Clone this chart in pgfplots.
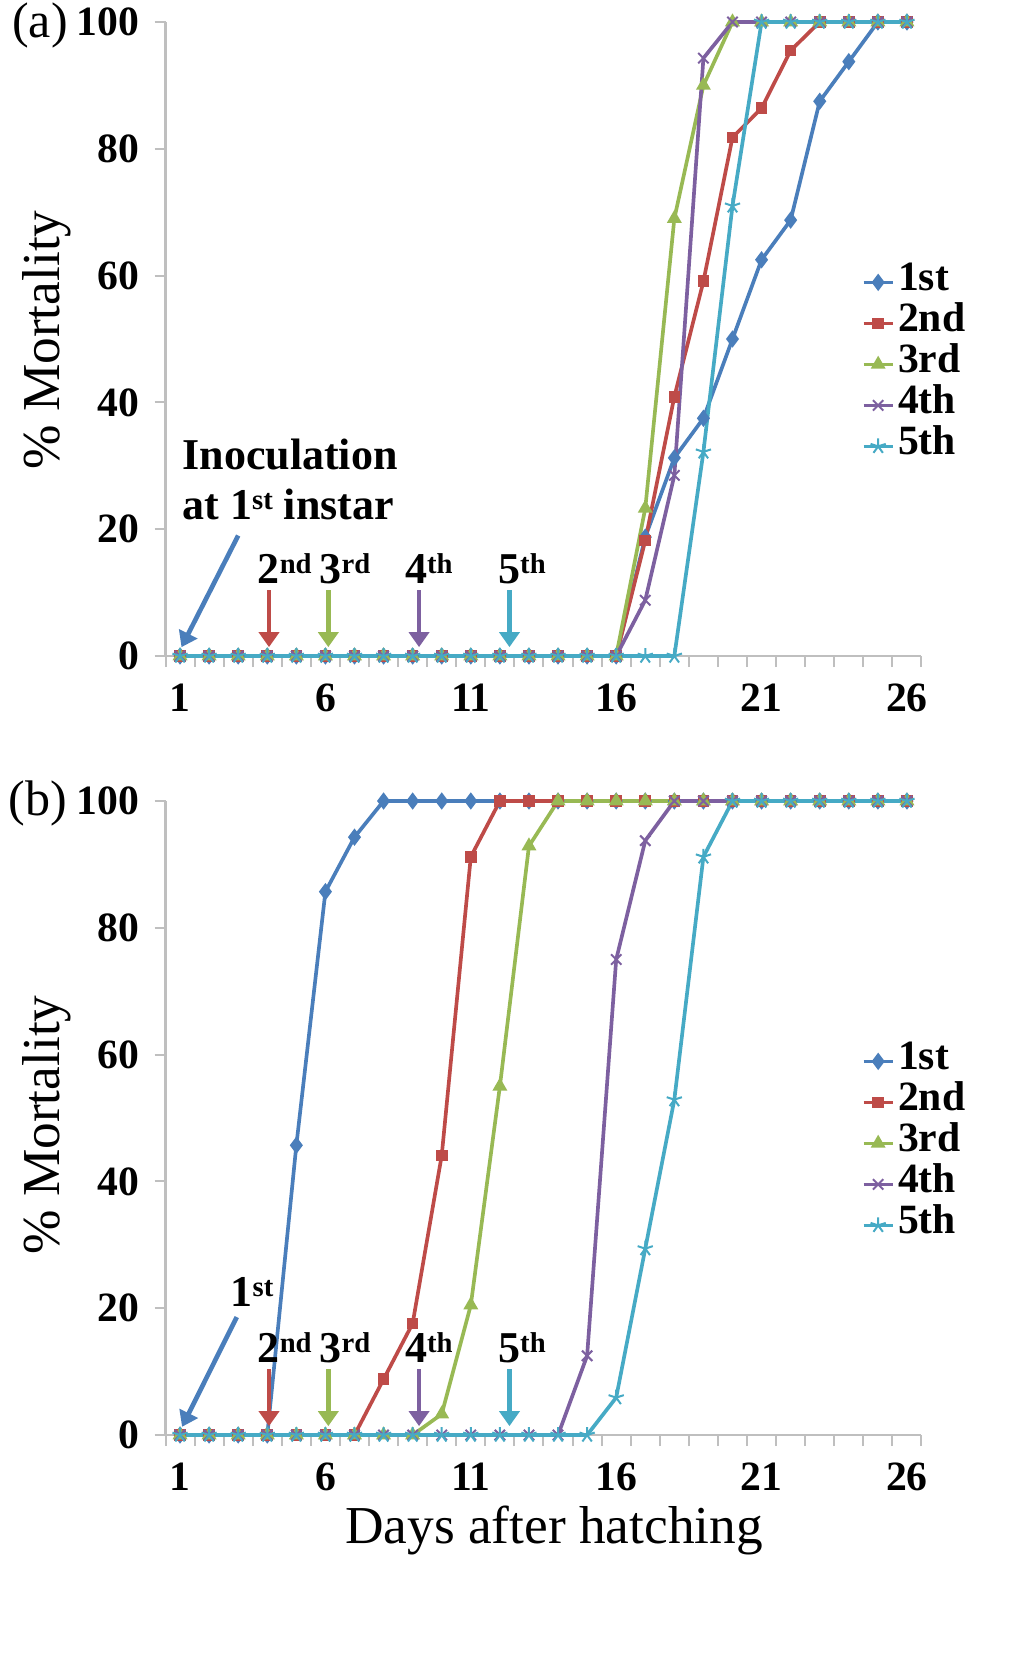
\documentclass[border=0pt]{standalone}
\usepackage{fontspec}
\setmainfont{Liberation Serif}
\usepackage{pgfplots}
\usepackage{pgfplotstable}
\pgfplotsset{compat=1.18}
\usetikzlibrary{arrows.meta}

\definecolor{c1}{HTML}{4A7EBB}
\definecolor{c2}{HTML}{BE4B48}
\definecolor{c3}{HTML}{98B954}
\definecolor{c4}{HTML}{7D60A0}
\definecolor{c5}{HTML}{46AAC5}
\definecolor{axgray}{HTML}{BFBFBF}

\newcommand\sups[1]{\raisebox{3.1pt}{\fontsize{8.6}{8.6}\selectfont #1}}

\pgfplotstableread{
day s1 s2 s3 s4 s5
1 0 0 0 0 0
2 0 0 0 0 0
3 0 0 0 0 0
4 0 0 0 0 0
5 0 0 0 0 0
6 0 0 0 0 0
7 0 0 0 0 0
8 0 0 0 0 0
9 0 0 0 0 0
10 0 0 0 0 0
11 0 0 0 0 0
12 0 0 0 0 0
13 0 0 0 0 0
14 0 0 0 0 0
15 0 0 0 0 0
16 0 0 0 0 0
17 18.75 18.2 23.3 8.8 0
18 31.25 40.9 69 28.5 0
19 37.5 59.1 90 94.3 32.2
20 50 81.8 100 100 71
21 62.5 86.4 100 100 100
22 68.75 95.5 100 100 100
23 87.5 100 100 100 100
24 93.75 100 100 100 100
25 100 100 100 100 100
26 100 100 100 100 100
}\dataA

\pgfplotstableread{
day s1 s2 s3 s4 s5
1 0 0 0 0 0
2 0 0 0 0 0
3 0 0 0 0 0
4 0 0 0 0 0
5 45.7 0 0 0 0
6 85.7 0 0 0 0
7 94.3 0 0 0 0
8 100 8.8 0 0 0
9 100 17.6 0 0 0
10 100 44.1 3.3 0 0
11 100 91.2 20.5 0 0
12 100 100 55 0 0
13 100 100 92.9 0 0
14 100 100 100 0 0
15 100 100 100 12.5 0
16 100 100 100 75 5.9
17 100 100 100 93.75 29.4
18 100 100 100 100 52.9
19 100 100 100 100 91.2
20 100 100 100 100 100
21 100 100 100 100 100
22 100 100 100 100 100
23 100 100 100 100 100
24 100 100 100 100 100
25 100 100 100 100 100
26 100 100 100 100 100
}\dataB

\pgfplotsset{
  mystyle/.style={
    scale only axis, width=226.8pt, height=190.2pt,
    xmin=0.5, xmax=26.5, ymin=0, ymax=100,
    axis x line*=bottom, axis y line*=left,
    axis line style={-, axgray, line width=0.8pt},
    xtick={0.5,1.5,...,26.5}, xticklabels={},
    extra x ticks={1,6,11,16,21,26},
    extra x tick labels={1,6,11,16,21,26},
    extra x tick style={major tick length=0pt},
    ytick={0,20,...,100},
    tick align=outside, major tick length=3.3pt,
    tick style={axgray, line width=0.6pt},
    ticklabel style={font=\fontsize{12.5}{12.5}\selectfont\bfseries},
    xticklabel style={inner sep=0pt, yshift=-8.2pt},
    yticklabel style={xshift=-1pt},
    /pgf/number format/assume math mode=true,
    clip=false,
    legend style={at={(0.920,0.460)}, anchor=west, draw=none, fill=none,
      inner sep=0pt, font=\fontsize{12.5}{12.5}\selectfont\bfseries,
      nodes={inner sep=0pt, text height=8.7pt, text depth=3.6pt},
      column sep=1pt},
    legend cell align=left,
    legend image code/.code={\draw[mark repeat=2,mark phase=2] plot coordinates {(0pt,0pt) (4.4pt,0pt) (8.8pt,0pt)};},
  },
  l1/.style={c1, line width=1.1pt, mark=diamond*, mark size=2.2pt, mark options={solid, line width=0.5pt}},
  l2/.style={c2, line width=1.1pt, mark=square*, mark size=1.5pt, mark options={solid, line width=0.5pt}},
  l3/.style={c3, line width=1.1pt, mark=triangle*, mark size=2.1pt, mark options={solid, line width=0.5pt}},
  l4/.style={c4, line width=1.1pt, mark=x, mark size=2.2pt, mark options={solid, line width=0.6pt}},
  l5/.style={c5, line width=1.1pt, mark=star, mark size=2.4pt, mark options={solid, line width=0.6pt}},
}

\tikzset{varr/.style={line width=1.4pt, -{Triangle[width=6pt,length=4.5pt]}},
  ann/.style={anchor=base west, inner sep=0pt, font=\fontsize{13.2}{13.2}\selectfont\bfseries}}

\begin{document}
\begin{tikzpicture}
% ---------- panel (a)
\begin{axis}[mystyle, at={(49.65pt,-196.8pt)}, anchor=south west]
\addplot[l1] table[x=day,y=s1]{\dataA}; \addlegendentry{1st}
\addplot[l2] table[x=day,y=s2]{\dataA}; \addlegendentry{2nd}
\addplot[l3] table[x=day,y=s3]{\dataA}; \addlegendentry{3rd}
\addplot[l4] table[x=day,y=s4]{\dataA}; \addlegendentry{4th}
\addplot[l5] table[x=day,y=s5]{\dataA}; \addlegendentry{5th}

\draw[c1, varr] (axis cs:3.0,19.0) -- (axis cs:1.05,1.4);
\node[ann] at (axis cs:1.06,29.4) {Inoculation};
\node[ann] at (axis cs:1.06,21.5) {at 1\sups{st} instar};

\draw[c2, varr] (axis cs:4.06,10.4) -- (axis cs:4.06,1.4);
\draw[c3, varr] (axis cs:6.10,10.4) -- (axis cs:6.10,1.4);
\draw[c4, varr] (axis cs:9.22,10.4) -- (axis cs:9.22,1.4);
\draw[c5, varr] (axis cs:12.33,10.4) -- (axis cs:12.33,1.4);
\node[ann] at (axis cs:3.65,11.4) {2\sups{nd}};
\node[ann] at (axis cs:5.78,11.4) {3\sups{rd}};
\node[ann] at (axis cs:8.72,11.4) {4\sups{th}};
\node[ann] at (axis cs:11.92,11.4) {5\sups{th}};
\end{axis}

% ---------- panel (b)
\begin{axis}[mystyle, at={(49.65pt,-430.5pt)}, anchor=south west]
\addplot[l1] table[x=day,y=s1]{\dataB}; \addlegendentry{1st}
\addplot[l2] table[x=day,y=s2]{\dataB}; \addlegendentry{2nd}
\addplot[l3] table[x=day,y=s3]{\dataB}; \addlegendentry{3rd}
\addplot[l4] table[x=day,y=s4]{\dataB}; \addlegendentry{4th}
\addplot[l5] table[x=day,y=s5]{\dataB}; \addlegendentry{5th}

\draw[c1, varr] (axis cs:2.95,18.6) -- (axis cs:1.07,1.3);
\node[ann] at (axis cs:2.72,20.2) {1\sups{st}};

\draw[c2, varr] (axis cs:4.06,10.4) -- (axis cs:4.06,1.4);
\draw[c3, varr] (axis cs:6.10,10.4) -- (axis cs:6.10,1.4);
\draw[c4, varr] (axis cs:9.22,10.4) -- (axis cs:9.22,1.4);
\draw[c5, varr] (axis cs:12.33,10.4) -- (axis cs:12.33,1.4);
\node[ann] at (axis cs:3.65,11.4) {2\sups{nd}};
\node[ann] at (axis cs:5.78,11.4) {3\sups{rd}};
\node[ann] at (axis cs:8.72,11.4) {4\sups{th}};
\node[ann] at (axis cs:11.92,11.4) {5\sups{th}};
\end{axis}

% ---------- outer labels
\node[font=\fontsize{15}{15}\selectfont] at (12pt,-7.5pt) {(a)};
\node[font=\fontsize{15}{15}\selectfont] at (11.4pt,-240.9pt) {(b)};
\node[rotate=90, font=\fontsize{16}{16}\selectfont] at (14.1pt,-102pt) {\% Mortality};
\node[rotate=90, font=\fontsize{16}{16}\selectfont] at (14.1pt,-337.5pt) {\% Mortality};
\node[inner sep=0pt, font=\fontsize{16}{16}\selectfont] at (166.2pt,-459pt) {Days after hatching};

\pgfresetboundingbox
\useasboundingbox (0,0) rectangle (307.2pt,-498.9pt);
\end{tikzpicture}
\end{document}
